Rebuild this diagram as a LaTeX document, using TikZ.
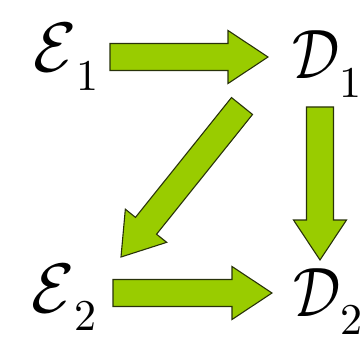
\documentclass[tikz,border=0pt]{standalone}
\usetikzlibrary{calc}
\definecolor{arrfill}{RGB}{153,204,0}
\definecolor{arrline}{RGB}{40,50,10}
\tikzset{
  blockarr/.style={fill=arrfill, draw=arrline, line width=1.1pt, line join=miter},
  lbl/.style={inner sep=0pt, outer sep=0pt, anchor=base west}
}
\newcommand\mainsym[2][7]{\scalebox{#1}[7]{$#2$}}
\newcommand\subsym[1]{\raisebox{-18pt}{\scalebox{4.4}{#1}}}
% #1 tail, #2 tip
\newcommand\blockarrow[2]{%
  \coordinate (hb) at ($(#2)!40pt!(#1)$);
  \draw[blockarr] ($(#1)!13.5pt!90:(#2)$) -- ($(hb)!13.5pt!90:(#2)$)
     -- ($(hb)!26.5pt!90:(#2)$) -- (#2) -- ($(hb)!26.5pt!-90:(#2)$)
     -- ($(hb)!13.5pt!-90:(#2)$) -- ($(#1)!13.5pt!-90:(#2)$) -- cycle;
}
\begin{document}
\begin{tikzpicture}[x=1pt,y=-1pt]
\useasboundingbox (0,0) rectangle (362,337);
\node[lbl] (e1) at (33,72) {\mainsym{\mathcal{E}}\subsym{1}};
\node[lbl] (d1) at (292,79) {\mainsym[5.9]{\mathcal{D}}\subsym{1}};
\node[lbl] (e2) at (31,312) {\mainsym{\mathcal{E}}\subsym{2}};
\node[lbl] (d2) at (293,316) {\mainsym[5.9]{\mathcal{D}}\subsym{2}};
\coordinate (a1s) at (110,57);
\coordinate (a1t) at (268,57);
\coordinate (a2s) at (113,293);
\coordinate (a2t) at (272,293);
\coordinate (a3s) at (320,107);
\coordinate (a3t) at (320,260);
\coordinate (a4s) at (242,106);
\coordinate (a4t) at (121,257);
\blockarrow{a1s}{a1t}
\blockarrow{a2s}{a2t}
\blockarrow{a3s}{a3t}
\blockarrow{a4s}{a4t}
\end{tikzpicture}
\end{document}
